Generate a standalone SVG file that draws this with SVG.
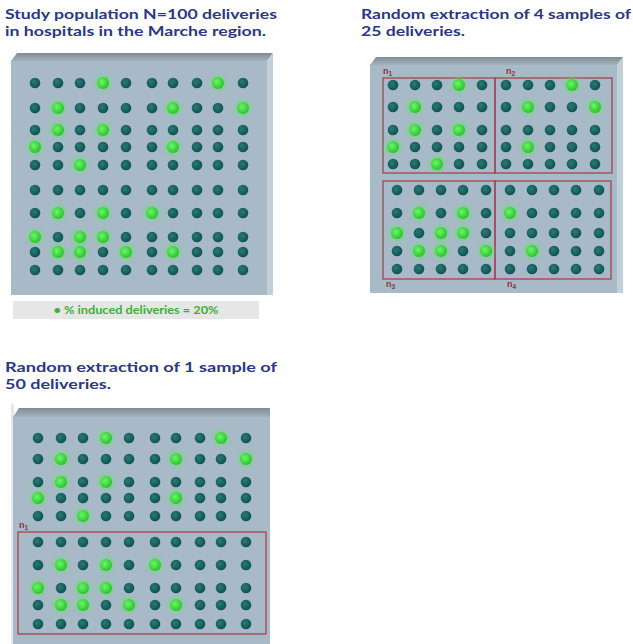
<svg xmlns="http://www.w3.org/2000/svg" width="633" height="644" viewBox="0 0 633 644">
  <style>
    .title { font-family: Lato, "Noto Sans", "Liberation Sans", sans-serif; font-weight: 700; font-size: 14px; fill: #2a3886; }
    .legend { font-family: Lato, "Noto Sans", "Liberation Sans", sans-serif; font-weight: 700; font-size: 11.5px; fill: #3fae3a; }
    .face { fill: #a8bac8; }
    .bevel-top { fill: url(#bevelTop); }
    .bevel-side { fill: #bfd0d6; }
    .frame { fill: none; stroke: #a8434f; stroke-width: 1.3; }
    .nlab { font-family: "Liberation Sans", "DejaVu Sans", sans-serif; font-weight: 700; font-size: 9px; fill: #8a3540; }
  </style>
  <defs>
    <linearGradient id="bevelTop" x1="0" y1="0" x2="0" y2="1">
      <stop offset="0" stop-color="#7f8d95"/>
      <stop offset="1" stop-color="#a3b2bb"/>
    </linearGradient>
    <radialGradient id="darkDot" cx="0.4" cy="0.4" r="0.65">
      <stop offset="0" stop-color="#2a7a76"/>
      <stop offset="1" stop-color="#0b504e"/>
    </radialGradient>
    <radialGradient id="greenDot" cx="0.4" cy="0.4" r="0.65">
      <stop offset="0" stop-color="#6cf56c"/>
      <stop offset="1" stop-color="#25c025"/>
    </radialGradient>
    <filter id="glow" x="-1" y="-1" width="3" height="3">
      <feGaussianBlur stdDeviation="2"/>
    </filter>
    <!-- single marbles -->
    <circle id="d" r="5.3" fill="url(#darkDot)"/>
    <g id="g">
      <circle r="8" fill="#5be85b" opacity="0.5" filter="url(#glow)"/>
      <circle r="6" fill="url(#greenDot)"/>
    </g>
    <!-- rows of dark marbles -->
    <g id="row10">
      <use href="#d" x="0"/><use href="#d" x="23"/><use href="#d" x="45"/><use href="#d" x="68"/><use href="#d" x="91"/>
      <use href="#d" x="117"/><use href="#d" x="138"/><use href="#d" x="162"/><use href="#d" x="183"/><use href="#d" x="208"/>
    </g>
    <g id="row5">
      <use href="#d" x="0"/><use href="#d" x="22"/><use href="#d" x="44"/><use href="#d" x="66"/><use href="#d" x="89"/>
    </g>
  </defs>

  <rect width="633" height="644" fill="#ffffff"/>

  <!-- Panel 1: whole population -->
  <g id="population">
    <text class="title" x="5" y="19" textLength="272" lengthAdjust="spacingAndGlyphs">Study population N=100 deliveries</text>
    <text class="title" x="5" y="36" textLength="261" lengthAdjust="spacingAndGlyphs">in hospitals in the Marche region.</text>
    <rect class="face" x="11" y="60" width="256" height="235"/>
    <polygon class="bevel-top" points="11,61 17,53 273,53 267,61"/>
    <polygon class="bevel-side" points="267,61 273,53 273,295 267,295"/>
    <use href="#row10" x="35" y="83"/>
    <use href="#row10" x="35" y="108"/>
    <use href="#row10" x="35" y="130"/>
    <use href="#row10" x="35" y="147"/>
    <use href="#row10" x="35" y="165"/>
    <use href="#row10" x="35" y="190"/>
    <use href="#row10" x="35" y="213"/>
    <use href="#row10" x="35" y="237"/>
    <use href="#row10" x="35" y="252"/>
    <use href="#row10" x="35" y="270"/>
    <!-- induced deliveries -->
    <use href="#g" x="103" y="83"/><use href="#g" x="218" y="83"/>
    <use href="#g" x="58" y="108"/><use href="#g" x="173" y="108"/><use href="#g" x="243" y="108"/>
    <use href="#g" x="58" y="130"/><use href="#g" x="103" y="130"/>
    <use href="#g" x="35" y="147"/><use href="#g" x="173" y="147"/>
    <use href="#g" x="80" y="165"/>
    <use href="#g" x="58" y="213"/><use href="#g" x="103" y="213"/><use href="#g" x="152" y="213"/>
    <use href="#g" x="35" y="237"/><use href="#g" x="80" y="237"/><use href="#g" x="103" y="237"/>
    <use href="#g" x="58" y="252"/><use href="#g" x="80" y="252"/><use href="#g" x="126" y="252"/><use href="#g" x="173" y="252"/>
  </g>

  <g id="legend">
    <rect x="13" y="301" width="246" height="18" fill="#e6e6e6"/>
    <text class="legend" x="136" y="314" text-anchor="middle" textLength="165" lengthAdjust="spacingAndGlyphs">• % induced deliveries = 20%</text>
  </g>

  <!-- Panel 2: four samples of 25 -->
  <g id="four-samples">
    <text class="title" x="361" y="19" textLength="270" lengthAdjust="spacingAndGlyphs">Random extraction of 4 samples of</text>
    <text class="title" x="361" y="36" textLength="104" lengthAdjust="spacingAndGlyphs">25 deliveries.</text>
    <rect class="face" x="370" y="64" width="247" height="229"/>
    <polygon class="bevel-top" points="370,65 376,57 623,57 617,65"/>
    <polygon class="bevel-side" points="617,65 623,57 623,293 617,293"/>
    <rect class="frame" x="383" y="78" width="112" height="95"/>
    <rect class="frame" x="495" y="78" width="117" height="95"/>
    <rect class="frame" x="383" y="181" width="112" height="98"/>
    <rect class="frame" x="495" y="181" width="116" height="98"/>
    <text class="nlab" x="383" y="74">n<tspan font-size="6.5" dy="2">1</tspan></text>
    <text class="nlab" x="506" y="74">n<tspan font-size="6.5" dy="2">2</tspan></text>
    <text class="nlab" x="386" y="287">n<tspan font-size="6.5" dy="2">3</tspan></text>
    <text class="nlab" x="507" y="287">n<tspan font-size="6.5" dy="2">4</tspan></text>
    <use href="#row5" x="393" y="85"/><use href="#row5" x="393" y="107"/><use href="#row5" x="393" y="130"/><use href="#row5" x="393" y="147"/><use href="#row5" x="393" y="164"/>
    <use href="#row5" x="506" y="85"/><use href="#row5" x="506" y="107"/><use href="#row5" x="506" y="130"/><use href="#row5" x="506" y="147"/><use href="#row5" x="506" y="164"/>
    <use href="#row5" x="397" y="190"/><use href="#row5" x="397" y="213"/><use href="#row5" x="397" y="233"/><use href="#row5" x="397" y="251"/><use href="#row5" x="397" y="269"/>
    <use href="#row5" x="510" y="190"/><use href="#row5" x="510" y="213"/><use href="#row5" x="510" y="233"/><use href="#row5" x="510" y="251"/><use href="#row5" x="510" y="269"/>
    <!-- induced deliveries per sample -->
    <use href="#g" x="459" y="85"/><use href="#g" x="415" y="107"/><use href="#g" x="415" y="130"/><use href="#g" x="459" y="130"/><use href="#g" x="393" y="147"/><use href="#g" x="437" y="164"/>
    <use href="#g" x="572" y="85"/><use href="#g" x="528" y="107"/><use href="#g" x="595" y="107"/><use href="#g" x="528" y="147"/>
    <use href="#g" x="419" y="213"/><use href="#g" x="463" y="213"/><use href="#g" x="397" y="233"/><use href="#g" x="441" y="233"/><use href="#g" x="463" y="233"/><use href="#g" x="419" y="251"/><use href="#g" x="441" y="251"/><use href="#g" x="486" y="251"/>
    <use href="#g" x="510" y="213"/><use href="#g" x="532" y="251"/>
  </g>

  <!-- Panel 3: one sample of 50 -->
  <g id="one-sample">
    <text class="title" x="5" y="372" textLength="272" lengthAdjust="spacingAndGlyphs">Random extraction of 1 sample of</text>
    <text class="title" x="5" y="389" textLength="106" lengthAdjust="spacingAndGlyphs">50 deliveries.</text>
    <rect x="11" y="404" width="3" height="240" fill="#e4e8ea"/>
    <rect class="face" x="13" y="416" width="257" height="228"/>
    <polygon class="bevel-top" points="13,417 19,408 270,408 270,417"/>
    <rect class="frame" x="18" y="532" width="248" height="102"/>
    <text class="nlab" x="19" y="528">n<tspan font-size="6.5" dy="2">1</tspan></text>
    <use href="#row10" x="38" y="438"/>
    <use href="#row10" x="38" y="459"/>
    <use href="#row10" x="38" y="482"/>
    <use href="#row10" x="38" y="498"/>
    <use href="#row10" x="38" y="516"/>
    <use href="#row10" x="38" y="542"/>
    <use href="#row10" x="38" y="565"/>
    <use href="#row10" x="38" y="588"/>
    <use href="#row10" x="38" y="605"/>
    <use href="#row10" x="38" y="624"/>
    <use href="#g" x="106" y="438"/><use href="#g" x="221" y="438"/>
    <use href="#g" x="61" y="459"/><use href="#g" x="176" y="459"/><use href="#g" x="246" y="459"/>
    <use href="#g" x="61" y="482"/><use href="#g" x="106" y="482"/>
    <use href="#g" x="38" y="498"/><use href="#g" x="176" y="498"/>
    <use href="#g" x="83" y="516"/>
    <use href="#g" x="61" y="565"/><use href="#g" x="106" y="565"/><use href="#g" x="155" y="565"/>
    <use href="#g" x="38" y="588"/><use href="#g" x="83" y="588"/><use href="#g" x="106" y="588"/>
    <use href="#g" x="61" y="605"/><use href="#g" x="83" y="605"/><use href="#g" x="129" y="605"/><use href="#g" x="176" y="605"/>
  </g>
</svg>
